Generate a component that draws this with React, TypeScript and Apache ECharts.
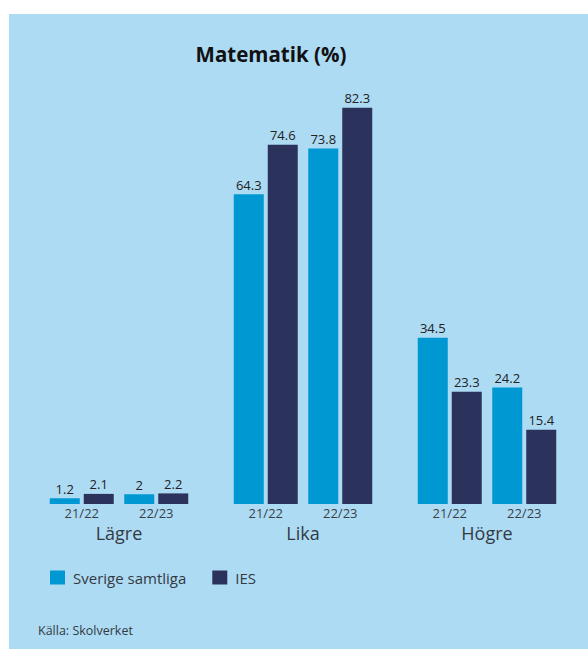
import React, { useEffect, useRef } from 'react';
import * as echarts from 'echarts';

const groupNames = ['Lägre', 'Lika', 'Högre'];
const periodLabels = ['21/22', '22/23'];
const seriesNames = ['Sverige samtliga', 'IES'];
const sverigeValues = [
  [1.2, 2],
  [64.3, 73.8],
  [34.5, 24.2],
];
const iesValues = [
  [2.1, 2.2],
  [74.6, 82.3],
  [23.3, 15.4],
];
const titleText = 'Matematik (%)';
const sourceText = 'Källa: Skolverket';

const colorSverige = '#0098D2';
const colorIES = '#2B325B';

export default function App() {
  const ref = useRef<HTMLDivElement>(null);
  useEffect(() => {
    const chart = echarts.init(ref.current!, null, { renderer: 'svg' });
    const font = "'Open Sans', sans-serif";
    const gridLefts = [44.5, 228.5, 412.5];
    const grid = gridLefts.map((left) => ({ left, width: 149, top: 70.6, bottom: 145 }));
    const xAxis = groupNames.map((g, i) => ({
      type: 'category',
      gridIndex: i,
      data: periodLabels,
      axisLine: { show: false },
      axisTick: { show: false },
      axisLabel: { color: '#3a3f47', fontSize: 13, fontFamily: font, margin: 2 },
      name: g,
      nameLocation: 'middle',
      nameGap: 20,
      nameTextStyle: { fontSize: 18, color: '#333a42', fontFamily: font },
    }));
    const yAxis = groupNames.map((_, i) => ({
      type: 'value',
      gridIndex: i,
      min: 0,
      max: 90,
      show: false,
    }));
    const labelStyle = {
      show: true,
      position: 'top',
      distance: 3,
      fontSize: 13,
      color: '#222',
      fontFamily: font,
    };
    const series: any[] = [];
    groupNames.forEach((_, i) => {
      series.push({
        type: 'bar',
        name: seriesNames[0],
        xAxisIndex: i,
        yAxisIndex: i,
        data: sverigeValues[i],
        barWidth: 30,
        barGap: '13.3%',
        itemStyle: { color: colorSverige },
        label: labelStyle,
      });
      series.push({
        type: 'bar',
        name: seriesNames[1],
        xAxisIndex: i,
        yAxisIndex: i,
        data: iesValues[i],
        barWidth: 30,
        barGap: '13.3%',
        itemStyle: { color: colorIES },
        label: labelStyle,
      });
    });
    chart.setOption({
      animation: false,
      grid,
      xAxis,
      yAxis,
      series,
      legend: {
        data: seriesNames,
        left: 50,
        top: 570,
        padding: 0,
        icon: 'rect',
        itemWidth: 15,
        itemHeight: 14,
        itemGap: 26,
        textStyle: {
          fontSize: 15,
          color: '#333a42',
          fontFamily: font,
          padding: [0, 0, 0, 3],
        },
      },
      graphic: [
        {
          type: 'rect',
          z: -10,
          silent: true,
          shape: { x: 9, y: 14, width: 579, height: 635 },
          style: { fill: '#ADDBF4' },
        },
        {
          type: 'text',
          x: 271,
          y: 53.5,
          style: {
            text: titleText,
            fontSize: 20.5,
            fontWeight: 'bold',
            fontFamily: font,
            fill: '#111',
            textAlign: 'center',
            textVerticalAlign: 'middle',
          },
        },
        {
          type: 'text',
          x: 38,
          y: 630,
          style: {
            text: sourceText,
            fontSize: 12.5,
            fontFamily: font,
            fill: '#333a42',
            textAlign: 'left',
            textVerticalAlign: 'middle',
          },
        },
      ],
    });
    return () => chart.dispose();
  }, []);
  return (
    <div
      ref={ref}
      style={{ position: 'absolute', left: 0, top: 0, width: 588, height: 649 }}
    />
  );
}
